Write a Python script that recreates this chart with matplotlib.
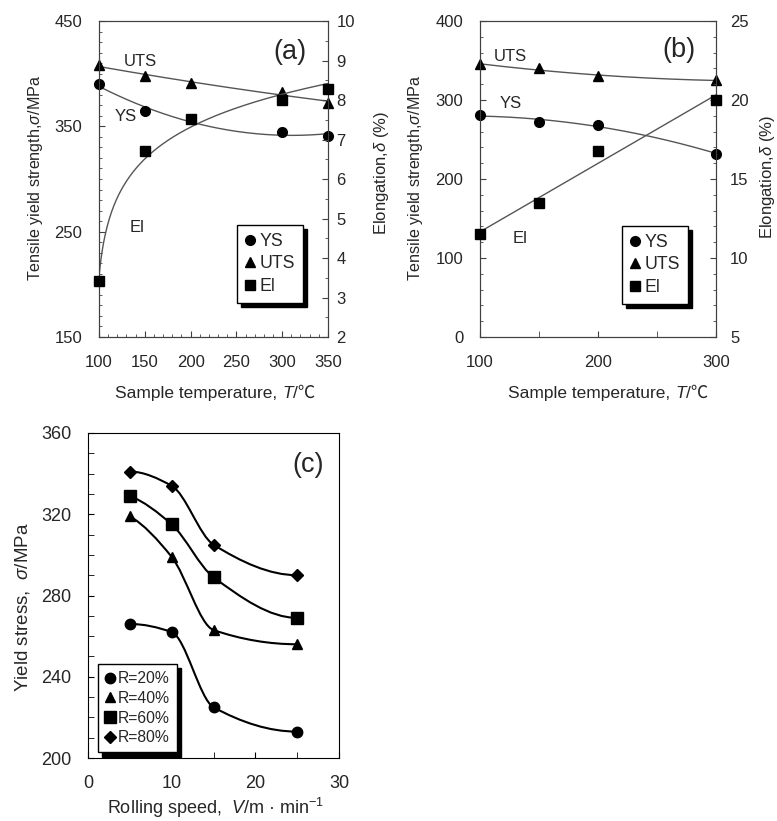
import numpy as np
import matplotlib
matplotlib.use("Agg")
import matplotlib.pyplot as plt
from matplotlib.path import Path
from matplotlib.patches import PathPatch
from matplotlib.ticker import MultipleLocator
from matplotlib.offsetbox import TextArea, HPacker, AnnotationBbox

plt.rcParams['font.family'] = ['Liberation Sans', 'Noto Sans CJK JP', 'DejaVu Sans']
plt.rcParams['mathtext.fontset'] = 'custom'
plt.rcParams['mathtext.rm'] = 'Liberation Sans'
plt.rcParams['mathtext.it'] = 'Liberation Sans:italic'
plt.rcParams['mathtext.bf'] = 'Liberation Sans:bold'

# panel (a)
tempA = [100, 150, 200, 300, 350]
tempA_ys = [100, 150, 300, 350]
ysA = [390, 365, 345, 341]
utsA = [408, 398, 391, 383, 372]
elA = [3.41, 6.71, 7.51, 7.99, 8.29]

# panel (b)
tempB = [100, 150, 200, 300]
ysB = [281, 272, 269, 232]
utsB = [345, 340, 330, 325]
elB = [11.5, 13.5, 16.8, 20.0]

# panel (c)
speedC = [5, 10, 15, 25]
r20 = [266, 262, 225, 213]
r40 = [319, 299, 263, 256]
r60 = [329, 315, 289, 269]
r80 = [341, 334, 305, 290]
labelsC = ['R=20%', 'R=40%', 'R=60%', 'R=80%']

TXT = '#262626'
FS = 12
CJK = ['Liberation Sans', 'Noto Sans CJK JP', 'DejaVu Sans']


def pchipSlopes (x, y):

	x = np.asarray(x, float)
	y = np.asarray(y, float)
	h = np.diff(x)
	d = np.diff(y) / h
	m = np.zeros(len(x))

	for k in range(1, len(x) - 1):

		if d[k - 1] * d[k] <= 0:
			continue
		w1 = 2 * h[k] + h[k - 1]
		w2 = h[k] + 2 * h[k - 1]
		m[k] = (w1 + w2) / (w1 / d[k - 1] + w2 / d[k])

	def endSlope (h0, h1, d0, d1):
		s = ((2 * h0 + h1) * d0 - h0 * d1) / (h0 + h1)
		if np.sign(s) != np.sign(d0):
			return 0.0
		if np.sign(d0) != np.sign(d1) and abs(s) > abs(3 * d0):
			return 3 * d0
		return s

	m[0] = endSlope(h[0], h[1], d[0], d[1])
	m[-1] = endSlope(h[-1], h[-2], d[-1], d[-2])
	return m


def smoothPath (ax, xs, ys, **kw):

	# monotone cubic through the points, drawn as a bezier path
	m = pchipSlopes(xs, ys)
	verts = [(xs[0], ys[0])]
	codes = [Path.MOVETO]

	for i in range(len(xs) - 1):

		h = (xs[i + 1] - xs[i]) / 3
		verts += [(xs[i] + h, ys[i] + m[i] * h), (xs[i + 1] - h, ys[i + 1] - m[i + 1] * h), (xs[i + 1], ys[i + 1])]
		codes += [Path.CURVE4] * 3

	ax.add_patch(PathPatch(Path(verts, codes), fill = False, **kw))


def styleAxis (ax):

	ax.tick_params(which = 'both', direction = 'in', labelsize = FS, labelcolor = TXT, colors = '#404040')
	ax.tick_params(which = 'major', length = 4)
	ax.tick_params(which = 'minor', length = 2.5)


def boxLegend (ax, handles, labels, anchor, fs):

	leg = ax.legend(handles, labels, loc = 'upper left', bbox_to_anchor = anchor, borderaxespad = 0,
		fontsize = fs, frameon = True, fancybox = False, handlelength = 0.6, handletextpad = 0.2,
		labelspacing = 0.3, borderpad = 0.45, shadow = {'color': 'black', 'alpha': 1, 'ox': 3, 'oy': -3})
	leg.get_frame().set_edgecolor('black')
	leg.get_frame().set_linewidth(1)
	for t in leg.get_texts():
		t.set_color(TXT)
	return leg


def tempLabel (ax, xy, fs):

	# "Sample temperature, T/℃" with italic T and the ℃ sign from a CJK face
	parts = [TextArea('Sample temperature, ', textprops = dict(fontsize = fs, color = TXT, family = CJK)),
		TextArea('T', textprops = dict(fontsize = fs, color = TXT, family = CJK, style = 'italic')),
		TextArea('/℃', textprops = dict(fontsize = fs, color = TXT, family = CJK))]
	box = HPacker(children = parts, pad = 0, sep = 0, align = 'baseline')
	ab = AnnotationBbox(box, xy, xycoords = ax.transAxes, box_alignment = (0.5, 1), frameon = False, annotation_clip = False)
	ax.add_artist(ab)


fig = plt.figure(figsize = (7.77, 8.21), dpi = 100)

# ---------------- (a)
ax = fig.add_axes([0.1274, 0.5895, 0.2947, 0.3849])
ax2 = ax.twinx()
for a in (ax, ax2):
	for s in a.spines.values():
		s.set_color('#404040')

tt = np.linspace(100, 350, 200)
c = np.polyfit(tempA_ys, ysA, 2)
ax.plot(tt, np.polyval(c, tt), color = '#555555', lw = 1)
c = np.polyfit(tempA, utsA, 2)
ax.plot(tt, np.polyval(c, tt), color = '#555555', lw = 1)
c = np.polyfit(np.log(np.array(tempA) - 95), elA, 1)
ax2.plot(tt, np.polyval(c, np.log(tt - 95)), color = '#555555', lw = 1)

hYS, = ax.plot(tempA_ys, ysA, 'o', color = 'black', ms = 7, clip_on = False, zorder = 5)
hUTS, = ax.plot(tempA, utsA, '^', color = 'black', ms = 7.5, clip_on = False, zorder = 5)
hEl, = ax2.plot(tempA, elA, 's', color = 'black', ms = 7, clip_on = False, zorder = 5)

ax.set_xlim(100, 350)
ax.set_ylim(150, 450)
ax2.set_ylim(2, 10)
ax.xaxis.set_major_locator(MultipleLocator(50))
ax.xaxis.set_minor_locator(MultipleLocator(10))
ax.yaxis.set_major_locator(MultipleLocator(100, offset = 50))
ax.yaxis.set_minor_locator(MultipleLocator(10))
ax2.yaxis.set_major_locator(MultipleLocator(1))
ax2.yaxis.set_minor_locator(MultipleLocator(0.5))
styleAxis(ax)
styleAxis(ax2)
ax.tick_params(axis = 'x', pad = 13)
ax.tick_params(axis = 'y', pad = 12)
ax2.tick_params(axis = 'y', pad = 6)

tempLabel(ax, (0.507, -0.155), 12.5)
ax.set_ylabel('Tensile yield strength,$\\sigma$/MPa', fontsize = 11.6, color = TXT)
ax2.set_ylabel('Elongation,$\\delta$ (%)', fontsize = FS, color = TXT)
ax.yaxis.set_label_coords(-0.236, 0.503)
ax2.yaxis.set_label_coords(1.192, 0.519)

ax.text(145, 412, 'UTS', fontsize = FS, color = TXT, ha = 'center', va = 'center')
ax.text(129, 359, 'YS', fontsize = FS, color = TXT, ha = 'center', va = 'center')
ax.text(142, 254, 'El', fontsize = FS, color = TXT, ha = 'center', va = 'center')
ax.text(0.834, 0.903, '(a)', transform = ax.transAxes, fontsize = 19.5, color = TXT, ha = 'center', va = 'center')

ax2.set_zorder(ax.get_zorder() + 1)
boxLegend(ax2, [hYS, hUTS, hEl], ['YS', 'UTS', 'El'], (0.603, 0.354), 12.8)

# ---------------- (b)
bx = fig.add_axes([0.6178, 0.5895, 0.3037, 0.3849])
bx2 = bx.twinx()
for a in (bx, bx2):
	for s in a.spines.values():
		s.set_color('#404040')

tt = np.linspace(100, 300, 200)
c = np.polyfit(tempB, ysB, 2)
bx.plot(tt, np.polyval(c, tt), color = '#555555', lw = 1)
c = np.polyfit(tempB, utsB, 2)
bx.plot(tt, np.polyval(c, tt), color = '#555555', lw = 1)
c = np.polyfit(tempB, elB, 1)
bx2.plot(tt, np.polyval(c, tt), color = '#555555', lw = 1)

hYS, = bx.plot(tempB, ysB, 'o', color = 'black', ms = 7, clip_on = False, zorder = 5)
hUTS, = bx.plot(tempB, utsB, '^', color = 'black', ms = 7.5, clip_on = False, zorder = 5)
hEl, = bx2.plot(tempB, elB, 's', color = 'black', ms = 7, clip_on = False, zorder = 5)

bx.set_xlim(100, 300)
bx.set_ylim(0, 400)
bx2.set_ylim(5, 25)
bx.xaxis.set_major_locator(MultipleLocator(100))
bx.xaxis.set_minor_locator(MultipleLocator(50))
bx.yaxis.set_major_locator(MultipleLocator(100))
bx.yaxis.set_minor_locator(MultipleLocator(20))
bx2.yaxis.set_major_locator(MultipleLocator(5))
bx2.yaxis.set_minor_locator(MultipleLocator(1))
styleAxis(bx)
styleAxis(bx2)
bx.tick_params(axis = 'x', which = 'minor', length = 4)
bx.tick_params(axis = 'x', pad = 13)
bx.tick_params(axis = 'y', pad = 12)
bx2.tick_params(axis = 'y', pad = 10)

tempLabel(bx, (0.544, -0.155), 12.5)
bx.set_ylabel('Tensile yield strength,$\\sigma$/MPa', fontsize = 11.6, color = TXT)
bx2.set_ylabel('Elongation,$\\delta$ (%)', fontsize = FS, color = TXT)
bx.yaxis.set_label_coords(-0.233, 0.503)
bx2.yaxis.set_label_coords(1.178, 0.506)

bx.text(126, 355, 'UTS', fontsize = FS, color = TXT, ha = 'center', va = 'center')
bx.text(126, 295, 'YS', fontsize = FS, color = TXT, ha = 'center', va = 'center')
bx.text(134, 125, 'El', fontsize = FS, color = TXT, ha = 'center', va = 'center')
bx.text(0.845, 0.908, '(b)', transform = bx.transAxes, fontsize = 19.5, color = TXT, ha = 'center', va = 'center')

bx2.set_zorder(bx.get_zorder() + 1)
boxLegend(bx2, [hYS, hUTS, hEl], ['YS', 'UTS', 'El'], (0.602, 0.351), 12.8)

# ---------------- (c)
cx = fig.add_axes([0.1133, 0.0767, 0.3230, 0.3959])
markersC = ['o', '^', 's', 'D']
sizesC = [7.5, 7, 8, 6]
handles = []
for vals, m, ms in zip([r20, r40, r60, r80], markersC, sizesC):
	smoothPath(cx, speedC, vals, color = 'black', lw = 1.5)
	h, = cx.plot(speedC, vals, m, color = 'black', ms = ms, zorder = 5)
	handles.append(h)

cx.set_xlim(0, 30)
cx.set_ylim(200, 360)
cx.xaxis.set_major_locator(MultipleLocator(10))
cx.xaxis.set_minor_locator(MultipleLocator(5))
cx.yaxis.set_major_locator(MultipleLocator(40))
cx.yaxis.set_minor_locator(MultipleLocator(10))
cx.tick_params(which = 'both', direction = 'in', labelsize = 13, labelcolor = TXT, colors = 'black', length = 4)
cx.tick_params(axis = 'x', pad = 12)
cx.tick_params(axis = 'y', pad = 12)

cx.set_xlabel('Rolling speed,  $V$/m · min$^{-1}$', fontsize = 13, color = TXT)
cx.set_ylabel('Yield stress,  $\\sigma$/MPa', fontsize = 13.5, color = TXT)
cx.xaxis.set_label_coords(0.506, -0.115)
cx.yaxis.set_label_coords(-0.225, 0.465)
cx.text(0.878, 0.902, '(c)', transform = cx.transAxes, fontsize = 19.5, color = TXT, ha = 'center', va = 'center')

boxLegend(cx, handles, labelsC, (0.04, 0.289), 11.3)

fig.savefig('out.png', dpi = 100)
